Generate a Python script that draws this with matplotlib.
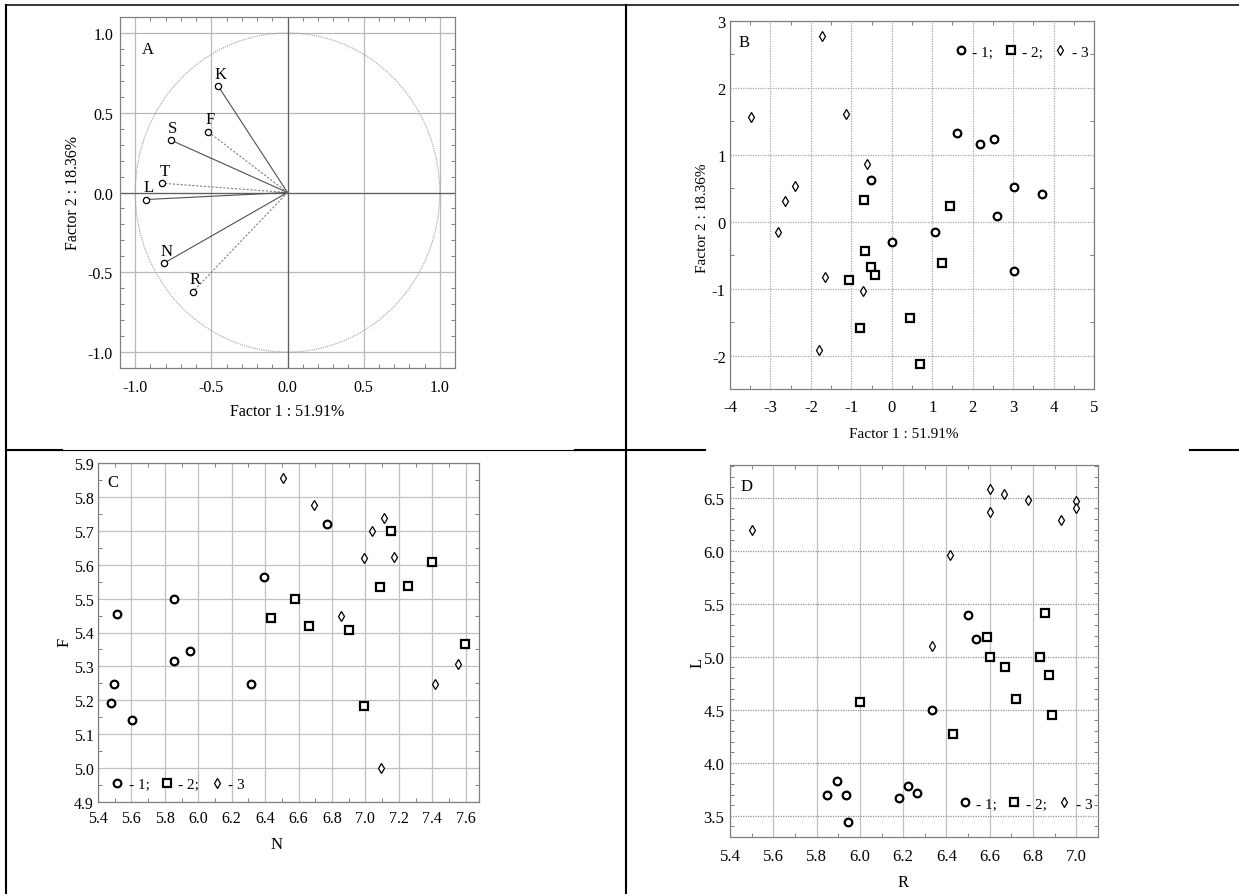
import matplotlib
matplotlib.use('Agg')
import matplotlib.pyplot as plt
from matplotlib.lines import Line2D
from matplotlib.patches import Ellipse
from matplotlib.ticker import MultipleLocator, AutoMinorLocator, FormatStrFormatter

plt.rcParams['font.family'] = ['Liberation Serif', 'DejaVu Serif']
plt.rcParams['axes.unicode_minus'] = False

# panel A: factor loadings
a_labels = ['K', 'F', 'S', 'T', 'L', 'N', 'R']
a_f1 = [-0.454, -0.522, -0.768, -0.822, -0.928, -0.809, -0.621]
a_f2 = [0.665, 0.381, 0.329, 0.058, -0.044, -0.442, -0.621]
a_solid = [True, False, True, False, True, True, False]

# panel B: factor scores by group
b1_x = [1.62, 2.18, 2.52, -0.505, 3.01, 3.72, 2.60, 0.0, 1.07, 3.02]
b1_y = [1.33, 1.16, 1.23, 0.62, 0.52, 0.41, 0.08, -0.30, -0.16, -0.73]
b2_x = [-0.69, 1.43, -0.66, -0.51, -0.41, -1.05, 1.25, 0.46, -0.78, 0.69]
b2_y = [0.32, 0.24, -0.44, -0.68, -0.79, -0.87, -0.62, -1.44, -1.59, -2.12]
b3_x = [-1.72, -3.49, -1.12, -0.62, -2.40, -2.64, -2.81, -1.65, -0.71, -1.80]
b3_y = [2.78, 1.57, 1.61, 0.86, 0.54, 0.31, -0.16, -0.83, -1.04, -1.91]

# panel C: F vs N
c1_x = [5.512, 5.852, 5.498, 5.478, 5.606, 5.852, 5.95, 6.316, 6.394, 6.768]
c1_y = [5.455, 5.499, 5.249, 5.192, 5.143, 5.317, 5.344, 5.249, 5.563, 5.719]
c2_x = [6.436, 6.576, 6.66, 6.90, 7.09, 7.156, 7.256, 7.398, 7.598, 6.99]
c2_y = [5.442, 5.499, 5.42, 5.408, 5.535, 5.70, 5.538, 5.609, 5.367, 5.182]
c3_x = [6.51, 6.69, 7.11, 7.042, 6.99, 7.17, 6.854, 7.556, 7.414, 7.094]
c3_y = [5.855, 5.775, 5.739, 5.699, 5.619, 5.624, 5.45, 5.307, 5.249, 5.0]

# panel D: L vs R
d1_x = [5.846, 5.894, 5.938, 5.946, 6.183, 6.222, 6.263, 6.334, 6.5, 6.537]
d1_y = [3.692, 3.831, 3.699, 3.446, 3.664, 3.777, 3.711, 4.496, 5.391, 5.170]
d2_x = [6.0, 6.428, 6.588, 6.6, 6.669, 6.722, 6.832, 6.857, 6.875, 6.889]
d2_y = [4.575, 4.269, 5.186, 4.994, 4.906, 4.603, 4.997, 5.41, 4.827, 4.455]
d3_x = [5.50, 6.60, 6.60, 6.668, 6.778, 6.928, 7.0, 7.0, 6.415, 6.334]
d3_y = [6.195, 6.585, 6.368, 6.541, 6.478, 6.289, 6.472, 6.403, 5.965, 5.098]

group_labels = ['- 1;', '- 2;', '- 3']

W, H = 1239, 895
fig = plt.figure(figsize=(W / 100, H / 100), dpi=100)


def px_axes(l, t, r, b):
    return fig.add_axes([l / W, 1 - b / H, (r - l) / W, (b - t) / H])


def fig_text(x, y, s, **kw):
    fig.text(x / W, 1 - y / H, s, ha='center', va='center', **kw)


def fig_line(x0, y0, x1, y1, lw):
    fig.add_artist(Line2D([x0 / W, x1 / W], [1 - y0 / H, 1 - y1 / H],
                          transform=fig.transFigure, color='black', lw=lw))


def style_axes(ax, size, xpad, ypad):
    for sp in ax.spines.values():
        sp.set_color('#808080')
        sp.set_linewidth(0.9)
    ax.tick_params(which='both', direction='in', top=True, right=True, color='#808080')
    ax.tick_params(which='major', length=0, labelsize=size)
    ax.tick_params(axis='x', which='major', pad=xpad)
    ax.tick_params(axis='y', which='major', pad=ypad)
    ax.tick_params(which='minor', length=3, width=0.7)
    ax.set_axisbelow(True)


def scatter_groups(ax, xs, ys, legend_loc, anchor, size):
    h1, = ax.plot(xs[0], ys[0], 'o', ms=5.5, mfc='white', mec='black', mew=1.6, ls='none')
    h2, = ax.plot(xs[1], ys[1], 's', ms=5.2, mfc='white', mec='black', mew=1.6, ls='none')
    h3, = ax.plot(xs[2], ys[2], 'd', ms=5.5, mfc='white', mec='black', mew=0.9, ls='none')
    ax.legend([h1, h2, h3], group_labels, loc=legend_loc, bbox_to_anchor=anchor, ncol=3,
              frameon=False, handlelength=0.5, handletextpad=0.5, columnspacing=0.9,
              fontsize=size, borderaxespad=0, borderpad=0)


# ---- A ----
ax = px_axes(120, 18, 455, 369)
ax.set_xlim(-1.1, 1.1)
ax.set_ylim(-1.1, 1.1)
ax.xaxis.set_major_locator(MultipleLocator(0.5))
ax.yaxis.set_major_locator(MultipleLocator(0.5))
ax.xaxis.set_minor_locator(AutoMinorLocator(5))
ax.yaxis.set_minor_locator(AutoMinorLocator(5))
ax.xaxis.set_major_formatter(FormatStrFormatter('%.1f'))
ax.yaxis.set_major_formatter(FormatStrFormatter('%.1f'))
ax.grid(True, which='major', color='#b8b8b8', lw=0.9)
ax.axhline(0, color='#606060', lw=0.9)
ax.axvline(0, color='#606060', lw=0.9)
ax.add_patch(Ellipse((0, 0), 2, 2, fill=False, ec='#a0a0a0', lw=0.8, ls=(0, (1, 1))))
for lab, x, y, solid in zip(a_labels, a_f1, a_f2, a_solid):
    if solid:
        ax.plot([0, x], [0, y], color='#505050', lw=0.8)
    else:
        ax.plot([0, x], [0, y], color='#808080', lw=0.8, ls=(0, (2, 1.5)))
    ax.plot(x, y, 'o', ms=4.5, mfc='white', mec='black', mew=0.9)
    ax.annotate(lab, (x, y), xytext=(1.5, 9), textcoords='offset points',
                ha='center', va='center', fontsize=12)
ax.text(0.083, 0.909, 'A', transform=ax.transAxes, ha='center', va='center', fontsize=12)
style_axes(ax, 11.5, 8, 5)
fig_text(287, 412, 'Factor 1 : 51.91%', fontsize=11.5)
fig_text(73, 193, 'Factor 2 : 18.36%', fontsize=11.5, rotation=90)

# ---- B ----
ax = px_axes(730, 22, 1094, 390)
ax.set_xlim(-4, 5)
ax.set_ylim(-2.5, 3)
ax.xaxis.set_major_locator(MultipleLocator(1))
ax.yaxis.set_major_locator(MultipleLocator(1))
ax.xaxis.set_minor_locator(AutoMinorLocator(2))
ax.yaxis.set_minor_locator(AutoMinorLocator(2))
ax.grid(True, which='major', color='#a8a8a8', lw=0.9, ls=(0, (1, 1)))
scatter_groups(ax, [b1_x, b2_x, b3_x], [b1_y, b2_y, b3_y], 'center right', (0.985, 0.916), 11)
ax.text(0.038, 0.943, 'B', transform=ax.transAxes, ha='center', va='center', fontsize=12)
style_axes(ax, 12, 7, 3)
fig_text(904, 435, 'Factor 1 : 51.91%', fontsize=11)
fig_text(703, 218, 'Factor 2 : 18.36%', fontsize=11, rotation=90)

# ---- C ----
ax = px_axes(98, 464, 479, 803)
ax.set_xlim(5.4, 7.68)
ax.set_ylim(4.9, 5.9)
ax.xaxis.set_major_locator(MultipleLocator(0.2))
ax.yaxis.set_major_locator(MultipleLocator(0.1))
ax.xaxis.set_minor_locator(AutoMinorLocator(2))
ax.yaxis.set_minor_locator(AutoMinorLocator(2))
ax.xaxis.set_major_formatter(FormatStrFormatter('%.1f'))
ax.yaxis.set_major_formatter(FormatStrFormatter('%.1f'))
ax.grid(True, which='major', color='#c0c0c0', lw=0.9)
scatter_groups(ax, [c1_x, c2_x, c3_x], [c1_y, c2_y, c3_y], 'center left', (0.04, 0.053), 11)
ax.text(0.039, 0.944, 'C', transform=ax.transAxes, ha='center', va='center', fontsize=12)
style_axes(ax, 11.5, 6, 3)
fig_text(277, 845, 'N', fontsize=12)
fig_text(65, 642, 'F', fontsize=12, rotation=90)

# ---- D ----
ax = px_axes(730, 466, 1098, 838)
ax.set_xlim(5.4, 7.1)
ax.set_ylim(3.3, 6.81)
ax.xaxis.set_major_locator(MultipleLocator(0.2))
ax.yaxis.set_major_locator(MultipleLocator(0.5))
ax.xaxis.set_minor_locator(AutoMinorLocator(2))
ax.yaxis.set_minor_locator(AutoMinorLocator(5))
ax.xaxis.set_major_formatter(FormatStrFormatter('%.1f'))
ax.yaxis.set_major_formatter(FormatStrFormatter('%.1f'))
ax.grid(True, axis='x', which='major', color='#c0c0c0', lw=0.9)
ax.grid(True, axis='y', which='major', color='#909090', lw=0.9, ls=(0, (1, 1)))
scatter_groups(ax, [d1_x, d2_x, d3_x], [d1_y, d2_y, d3_y], 'center right', (0.985, 0.089), 11)
ax.text(0.046, 0.944, 'D', transform=ax.transAxes, ha='center', va='center', fontsize=12)
style_axes(ax, 12, 8, 4)
fig_text(903, 883, 'R', fontsize=12)
fig_text(698, 663, 'L', fontsize=12, rotation=90)

# table borders around the panels
fig_line(6, 6, 1239, 6, 1.1)
fig_line(6, 6, 6, 895, 1.5)
fig_line(626, 6, 626, 895, 1.5)
fig_line(6, 451, 626, 451, 0.8)
fig_line(6, 451, 62, 451, 1.5)
fig_line(575, 451, 705, 451, 1.5)
fig_line(1190, 451, 1239, 451, 1.5)

fig.savefig('out.png', dpi=100)
